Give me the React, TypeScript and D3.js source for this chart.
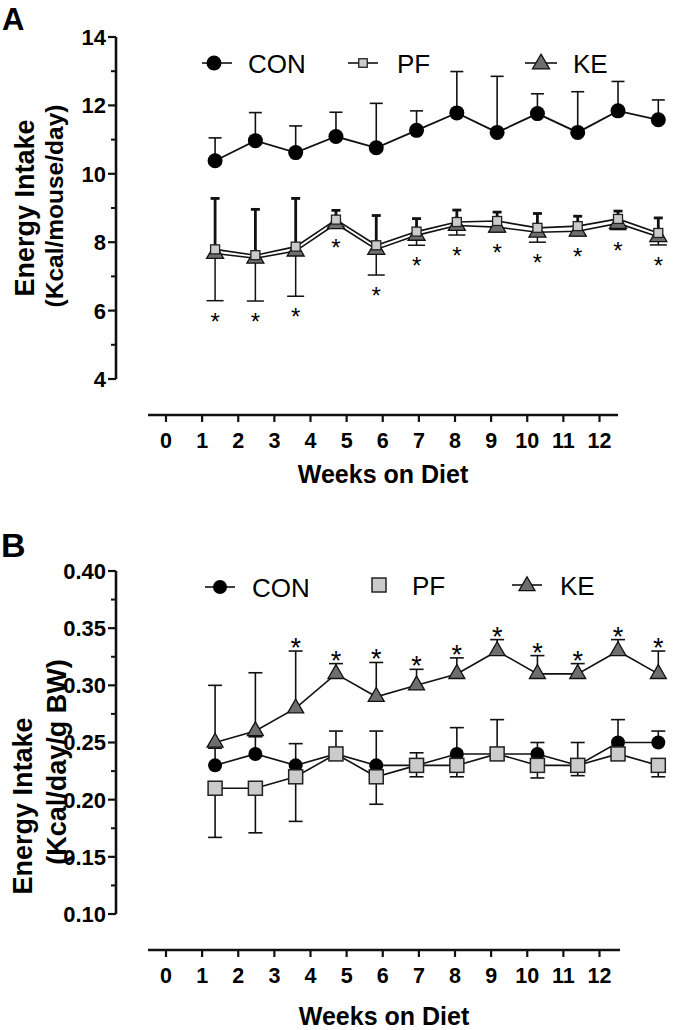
import React from 'react';
import * as d3 from 'd3';

// ---------- data ----------
const weeks = [1, 2, 3, 4, 5, 6, 7, 8, 9, 10, 11, 12];
const xTickValues = [0, 1, 2, 3, 4, 5, 6, 7, 8, 9, 10, 11, 12];

// Panel A: Energy intake (Kcal/mouse/day)
const conA = [10.38, 10.97, 10.62, 11.09, 10.76, 11.27, 11.78, 11.21, 11.76, 11.21, 11.84, 11.58];
const conAUpper = [11.05, 11.79, 11.4, 11.8, 12.06, 11.84, 12.99, 12.85, 12.34, 12.4, 12.7, 12.16];
const pfA = [7.79, 7.62, 7.87, 8.66, 7.91, 8.31, 8.59, 8.62, 8.42, 8.47, 8.68, 8.27];
const pfAUpper = [9.28, 8.96, 9.28, 8.93, 8.78, 8.69, 8.94, 8.88, 8.84, 8.76, 8.91, 8.71];
const keA = [7.67, 7.53, 7.74, 8.54, 7.79, 8.2, 8.49, 8.44, 8.29, 8.32, 8.55, 8.16];
const keALower = [6.29, 6.28, 6.42, 8.45, 7.04, 7.91, 8.21, 8.3, 8.0, 8.19, 8.37, 7.92];
const sigA = [true, true, true, true, true, true, true, true, true, true, true, true];
const yMajorA = [4, 6, 8, 10, 12, 14];
const yMinorA = [5, 7, 9, 11, 13];

// Panel B: Energy intake (Kcal/day/g BW)
const conB = [0.23, 0.24, 0.23, 0.24, 0.23, 0.23, 0.24, 0.24, 0.24, 0.23, 0.25, 0.25];
const conBUpper = [0.245, 0.255, 0.249, 0.26, 0.26, 0.241, 0.263, 0.27, 0.25, 0.25, 0.27, 0.26];
const pfB = [0.21, 0.21, 0.22, 0.24, 0.22, 0.23, 0.23, 0.24, 0.23, 0.23, 0.24, 0.23];
const pfBLower = [0.167, 0.171, 0.181, 0.235, 0.196, 0.22, 0.22, 0.235, 0.219, 0.221, 0.235, 0.22];
const keB = [0.25, 0.26, 0.28, 0.31, 0.29, 0.3, 0.31, 0.33, 0.31, 0.31, 0.33, 0.31];
const keBUpper = [0.3, 0.311, 0.33, 0.319, 0.32, 0.314, 0.324, 0.34, 0.326, 0.319, 0.34, 0.33];
const sigB = [false, false, true, true, true, true, true, true, true, true, true, true];
const yMajorB = [0.1, 0.15, 0.2, 0.25, 0.3, 0.35, 0.4];
const yMinorB = [0.125, 0.175, 0.225, 0.275, 0.325, 0.375];

// ---------- styles ----------
const FONT = '"Liberation Sans", Arial, Helvetica, sans-serif';
const KE_FILL = '#6e6e6e';
const PF_FILL = '#cbcbcb';
const STROKE = '#111';

type Pt = [number, number];

function ErrBar({ x, y0, y1, w, sw = 1.6 }: { x: number; y0: number; y1: number; w: number; sw?: number }) {
  return (
    <g stroke={STROKE} strokeWidth={sw} fill="none">
      <line x1={x} x2={x} y1={y0} y2={y1} />
      <line x1={x - w / 2} x2={x + w / 2} y1={y1} y2={y1} />
    </g>
  );
}

function Tri({ x, y, side, fill }: { x: number; y: number; side: number; fill: string }) {
  const area = (side * side * Math.sqrt(3)) / 4;
  const d = d3.symbol().type(d3.symbolTriangle).size(area)() as string;
  return <path d={d} transform={`translate(${x},${y})`} fill={fill} stroke={STROKE} strokeWidth={1.3} />;
}

function Sq({ x, y, s, fill, sw = 1.3 }: { x: number; y: number; s: number; fill: string; sw?: number }) {
  return <rect x={x - s / 2} y={y - s / 2} width={s} height={s} fill={fill} stroke="#222" strokeWidth={sw} />;
}

function XAxis({ y, x0, x1, scale, titleY }: { y: number; x0: number; x1: number; scale: d3.ScaleLinear<number, number>; titleY: number }) {
  return (
    <g>
      <line x1={x0} x2={x1} y1={y} y2={y} stroke={STROKE} strokeWidth={2.6} />
      {xTickValues.map((t) => (
        <g key={t}>
          <line x1={scale(t)} x2={scale(t)} y1={y} y2={y + 7} stroke={STROKE} strokeWidth={2.2} />
          <text x={scale(t)} y={y + 33} textAnchor="middle" fontFamily={FONT} fontWeight="bold" fontSize={21.5}>
            {t}
          </text>
        </g>
      ))}
      <text x={(x0 + x1) / 2} y={titleY} textAnchor="middle" fontFamily={FONT} fontWeight="bold" fontSize={25}>
        Weeks on Diet
      </text>
    </g>
  );
}

function YAxis({ x, scale, major, minor, fmt }: { x: number; scale: d3.ScaleLinear<number, number>; major: number[]; minor: number[]; fmt: (v: number) => string }) {
  const [d0, d1] = scale.domain();
  return (
    <g>
      <line x1={x} x2={x} y1={scale(d1)} y2={scale(d0)} stroke={STROKE} strokeWidth={2.6} />
      {major.map((t) => (
        <g key={'M' + t}>
          <line x1={x - 8} x2={x} y1={scale(t)} y2={scale(t)} stroke={STROKE} strokeWidth={2.2} />
          <text x={x - 10} y={scale(t)} dy="0.36em" textAnchor="end" fontFamily={FONT} fontWeight="bold" fontSize={22}>
            {fmt(t)}
          </text>
        </g>
      ))}
      {minor.map((t) => (
        <line key={'m' + t} x1={x - 5} x2={x} y1={scale(t)} y2={scale(t)} stroke={STROKE} strokeWidth={2} />
      ))}
    </g>
  );
}

function YTitle({ x1, x2, c1, c2, f1, f2, line1, line2 }: { x1: number; x2: number; c1: number; c2: number; f1: number; f2: number; line1: string; line2: string }) {
  return (
    <g fontFamily={FONT} fontWeight="bold">
      <text transform={`translate(${x1},${c1}) rotate(-90)`} textAnchor="middle" fontSize={f1}>{line1}</text>
      <text transform={`translate(${x2},${c2}) rotate(-90)`} textAnchor="middle" fontSize={f2}>{line2}</text>
    </g>
  );
}

export default function App() {
  const xAxisScale = d3.scaleLinear().domain([0, 12]).range([166, 599.5]);
  const xData = d3.scaleLinear().domain([0, 12]).range([174.8, 658.3]);
  const yA = d3.scaleLinear().domain([4, 14]).range([379, 37]);
  const yB = d3.scaleLinear().domain([0.1, 0.4]).range([914, 571]);

  const lineGen = d3.line<Pt>().x((d) => d[0]).y((d) => d[1]);
  const pts = (vals: number[], ys: d3.ScaleLinear<number, number>): Pt[] => weeks.map((w, i) => [xData(w), ys(vals[i])]);

  return (
    <svg width={684} height={1030} style={{ position: 'absolute', left: 0, top: 0, background: '#fff' }}>
      <rect width={684} height={1030} fill="#fff" />

      {/* ================= Panel A ================= */}
      <text x={2} y={30} fontFamily={FONT} fontWeight="bold" fontSize={31}>A</text>
      <YAxis x={116} scale={yA} major={yMajorA} minor={yMinorA} fmt={(v) => String(v)} />
      <YTitle x1={34} x2={63} c1={208} c2={206} f1={27} f2={24.5} line1="Energy Intake" line2="(Kcal/mouse/day)" />
      <XAxis y={415} x0={148} x1={618} scale={xAxisScale} titleY={483} />

      {/* legend A */}
      <g fontFamily={FONT} fontSize={26}>
        <line x1={202} x2={232} y1={63} y2={63} stroke={STROKE} strokeWidth={1.6} />
        <circle cx={214} cy={63} r={7.5} fill="#000" />
        <text x={248} y={72.5}>CON</text>
        <line x1={348} x2={378} y1={63} y2={63} stroke={STROKE} strokeWidth={1.6} />
        <Sq x={363} y={63} s={8.5} fill={PF_FILL} />
        <text x={397} y={72.5}>PF</text>
        <line x1={525} x2={557} y1={63} y2={63} stroke={STROKE} strokeWidth={1.6} />
        <Tri x={541} y={64} side={17} fill={KE_FILL} />
        <text x={573} y={72.5}>KE</text>
      </g>

      {/* CON A */}
      {weeks.map((w, i) => (
        <ErrBar key={'ca' + w} x={xData(w)} y0={yA(conA[i])} y1={yA(conAUpper[i])} w={13} />
      ))}
      <path d={lineGen(pts(conA, yA)) as string} fill="none" stroke={STROKE} strokeWidth={1.8} />
      {weeks.map((w, i) => (
        <circle key={'cc' + w} cx={xData(w)} cy={yA(conA[i])} r={7.5} fill="#000" />
      ))}

      {/* KE / PF A */}
      {weeks.map((w, i) => (
        <ErrBar key={'ka' + w} x={xData(w)} y0={yA(keA[i])} y1={yA(keALower[i])} w={17} sw={1.5} />
      ))}
      {weeks.map((w, i) => (
        <ErrBar key={'pa' + w} x={xData(w)} y0={yA(pfA[i])} y1={yA(pfAUpper[i])} w={9} sw={2.8} />
      ))}
      <path d={lineGen(pts(keA, yA)) as string} fill="none" stroke={STROKE} strokeWidth={1.6} />
      <path d={lineGen(pts(pfA, yA)) as string} fill="none" stroke={STROKE} strokeWidth={1.6} />
      {weeks.map((w, i) => (
        <Tri key={'kt' + w} x={xData(w)} y={yA(keA[i])} side={17} fill={KE_FILL} />
      ))}
      {weeks.map((w, i) => (
        <Sq key={'ps' + w} x={xData(w)} y={yA(pfA[i])} s={9} fill={PF_FILL} />
      ))}
      {weeks.map((w, i) =>
        sigA[i] ? (
          <text key={'sa' + w} x={xData(w)} y={yA(Math.min(keALower[i], keA[i])) + 29} textAnchor="middle" fontFamily={FONT} fontSize={24}>
            *
          </text>
        ) : null
      )}

      {/* ================= Panel B ================= */}
      <text x={1} y={557} fontFamily={FONT} fontWeight="bold" fontSize={34}>B</text>
      <YAxis x={116} scale={yB} major={yMajorB} minor={yMinorB} fmt={(v) => d3.format('.2f')(v)} />
      <YTitle x1={32} x2={66} c1={806} c2={762} f1={27} f2={27} line1="Energy Intake" line2="(Kcal/day/g BW)" />
      <XAxis y={950} x0={148} x1={620} scale={xAxisScale} titleY={1025} />

      {/* legend B */}
      <g fontFamily={FONT} fontSize={26}>
        <line x1={205} x2={235} y1={587} y2={587} stroke={STROKE} strokeWidth={1.6} />
        <circle cx={220} cy={587} r={7} fill="#000" />
        <text x={252} y={597}>CON</text>
        <Sq x={379} y={585} s={14} fill={PF_FILL} sw={1.5} />
        <text x={412} y={595}>PF</text>
        <line x1={512} x2={542} y1={585} y2={585} stroke={STROKE} strokeWidth={1.6} />
        <Tri x={527} y={586} side={16} fill={KE_FILL} />
        <text x={560} y={595}>KE</text>
      </g>

      {/* KE B */}
      {weeks.map((w, i) => (
        <ErrBar key={'kb' + w} x={xData(w)} y0={yB(keB[i])} y1={yB(keBUpper[i])} w={14} />
      ))}
      <path d={lineGen(pts(keB, yB)) as string} fill="none" stroke={STROKE} strokeWidth={1.6} />
      {weeks.map((w, i) => (
        <Tri key={'ktb' + w} x={xData(w)} y={yB(keB[i])} side={16} fill={KE_FILL} />
      ))}
      {weeks.map((w, i) =>
        sigB[i] ? (
          <text key={'sb' + w} x={xData(w)} y={yB(keBUpper[i]) + 6} textAnchor="middle" fontFamily={FONT} fontSize={27}>
            *
          </text>
        ) : null
      )}

      {/* CON B */}
      {weeks.map((w, i) => (
        <ErrBar key={'cb' + w} x={xData(w)} y0={yB(conB[i])} y1={yB(conBUpper[i])} w={14} />
      ))}
      <path d={lineGen(pts(conB, yB)) as string} fill="none" stroke={STROKE} strokeWidth={1.6} />
      {weeks.map((w, i) => (
        <circle key={'ccb' + w} cx={xData(w)} cy={yB(conB[i])} r={7} fill="#000" />
      ))}

      {/* PF B */}
      {weeks.map((w, i) => (
        <ErrBar key={'pb' + w} x={xData(w)} y0={yB(pfB[i])} y1={yB(pfBLower[i])} w={14} />
      ))}
      <path d={lineGen(pts(pfB, yB)) as string} fill="none" stroke={STROKE} strokeWidth={1.6} />
      {weeks.map((w, i) => (
        <Sq key={'psb' + w} x={xData(w)} y={yB(pfB[i])} s={14} fill={PF_FILL} sw={1.5} />
      ))}
    </svg>
  );
}
